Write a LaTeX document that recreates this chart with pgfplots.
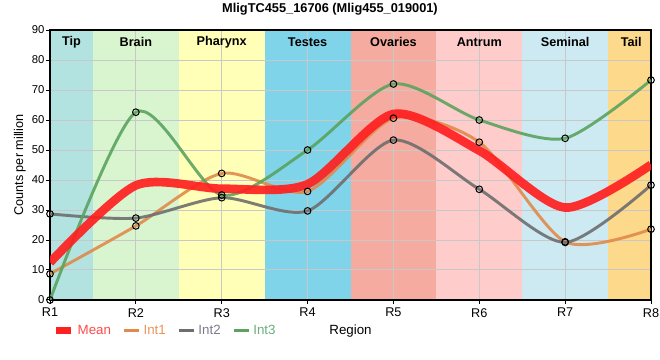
\documentclass[border=0pt]{standalone}
\usepackage{fontspec}
\setmainfont{Liberation Sans}
\usepackage{pgfplots}
\pgfplotsset{compat=1.18}
\definecolor{meanc}{HTML}{FF2020}
\definecolor{meantxt}{HTML}{FF4A4A}
\definecolor{int1c}{HTML}{E08A4B}
\definecolor{int2c}{HTML}{6E6E6E}
\definecolor{int3c}{HTML}{5BA35F}
\definecolor{int1t}{HTML}{E8955A}
\definecolor{int2t}{HTML}{7A7A8A}
\definecolor{int3t}{HTML}{6AAE7A}
\definecolor{gridc}{HTML}{C8C8C8}
\definecolor{tipc}{HTML}{B3E3E0}
\definecolor{brainc}{HTML}{D9F5D0}
\definecolor{pharc}{HTML}{FFFFB8}
\definecolor{testc}{HTML}{7FD4EA}
\definecolor{ovac}{HTML}{F5AB9F}
\definecolor{antc}{HTML}{FFCCCC}
\definecolor{semc}{HTML}{CDEAF3}
\definecolor{tailc}{HTML}{FDD98B}
\begin{document}
\begin{tikzpicture}
\begin{axis}[
  set layers,
  scale only axis, width=450.75pt, height=202.5pt,
  xmin=0, xmax=7, ymin=0, ymax=90,
  xtick={0,1,2,3,4,5,6,7},
  xticklabels={R1,R2,R3,R4,R5,R6,R7,R8},
  ytick={0,10,20,30,40,50,60,70,80,90},
  /pgf/number format/assume math mode=true,
  grid=major, grid style={color=gridc, line width=0.75pt},
  axis line style={black, line width=1.4pt},
  tick pos=left, tick align=outside, major tick length=3pt,
  tick style={black, line width=0.75pt},
  yticklabel style={font=\fontsize{8.5}{10}\selectfont, inner sep=1pt},
  xticklabel style={font=\fontsize{9.5}{11}\selectfont, inner sep=3pt},
  ylabel={Counts per million},
  ylabel style={font=\fontsize{9.5}{11}\selectfont, at={(axis description cs:-0.05,0.5)}, anchor=center},
  xlabel={Region},
  xlabel style={font=\fontsize{10}{12}\selectfont, at={(axis description cs:0.5,-0.115)}, anchor=center},
  clip mode=individual,
  legend columns=4,
  legend style={at={(axis description cs:0.004,-0.113)}, anchor=west, draw=none, fill=none,
    font=\fontsize{10}{12}\selectfont, inner sep=0pt,
    nodes={inner sep=2pt},
    /tikz/every even column/.append style={column sep=7pt},
    /tikz/every odd column/.append style={column sep=0pt}},
  legend image code/.code={\draw[#1] (0pt,0pt) -- (11.25pt,0pt);},
  legend cell align=left,
]
% region bands
\addplot[draw=none, fill=tipc, on layer=axis background, forget plot] coordinates {(0,0) (0,90) (0.5,90) (0.5,0)} -- cycle;
\addplot[draw=none, fill=brainc, on layer=axis background, forget plot] coordinates {(0.5,0) (0.5,90) (1.5,90) (1.5,0)} -- cycle;
\addplot[draw=none, fill=pharc, on layer=axis background, forget plot] coordinates {(1.5,0) (1.5,90) (2.5,90) (2.5,0)} -- cycle;
\addplot[draw=none, fill=testc, on layer=axis background, forget plot] coordinates {(2.5,0) (2.5,90) (3.5,90) (3.5,0)} -- cycle;
\addplot[draw=none, fill=ovac, on layer=axis background, forget plot] coordinates {(3.5,0) (3.5,90) (4.5,90) (4.5,0)} -- cycle;
\addplot[draw=none, fill=antc, on layer=axis background, forget plot] coordinates {(4.5,0) (4.5,90) (5.5,90) (5.5,0)} -- cycle;
\addplot[draw=none, fill=semc, on layer=axis background, forget plot] coordinates {(5.5,0) (5.5,90) (6.5,90) (6.5,0)} -- cycle;
\addplot[draw=none, fill=tailc, on layer=axis background, forget plot] coordinates {(6.5,0) (6.5,90) (7,90) (7,0)} -- cycle;

\node[font=\bfseries\fontsize{9.5}{11}\selectfont] at (axis cs:0.25,86) {Tip};
\node[font=\bfseries\fontsize{9.5}{11}\selectfont] at (axis cs:1,86) {Brain};
\node[font=\bfseries\fontsize{9.5}{11}\selectfont] at (axis cs:2,86) {Pharynx};
\node[font=\bfseries\fontsize{9.5}{11}\selectfont] at (axis cs:3,86) {Testes};
\node[font=\bfseries\fontsize{9.5}{11}\selectfont] at (axis cs:4,86) {Ovaries};
\node[font=\bfseries\fontsize{9.5}{11}\selectfont] at (axis cs:5,86) {Antrum};
\node[font=\bfseries\fontsize{9.5}{11}\selectfont] at (axis cs:6,86) {Seminal};
\node[font=\bfseries\fontsize{9.5}{11}\selectfont] at (axis cs:6.77,86) {Tail};

% lines
\addplot[int1c, line width=2.2pt, opacity=0.9, smooth, tension=0.45, no markers, forget plot]
  coordinates {(0,8.7)(1,24.7)(2,42.2)(3,36.2)(4,60.6)(5,52.6)(6,19.4)(7,23.6)};
\addplot[int2c, line width=2.2pt, opacity=0.9, smooth, tension=0.45, no markers, forget plot]
  coordinates {(0,28.7)(1,27.3)(2,34.1)(3,29.7)(4,53.3)(5,36.9)(6,19.2)(7,38.3)};
\addplot[int3c, line width=2.2pt, opacity=0.9, smooth, tension=0.45, no markers, forget plot]
  coordinates {(0,0)(1,62.6)(2,35.0)(3,50.0)(4,72.0)(5,60.0)(6,53.9)(7,73.3)};
\addplot[meanc, line width=6.5pt, opacity=0.92, smooth, tension=0.45, no markers, forget plot]
  coordinates {(0,12.5)(1,38.2)(2,37.1)(3,38.6)(4,62.0)(5,49.8)(6,30.8)(7,45.1)};

% markers
\addplot[only marks, mark=o, mark size=2.5pt, mark options={black, line width=0.75pt}, forget plot]
  coordinates {(0,8.7)(1,24.7)(2,42.2)(3,36.2)(4,60.6)(5,52.6)(6,19.4)(7,23.6)};
\addplot[only marks, mark=o, mark size=2.5pt, mark options={black, line width=0.75pt}, forget plot]
  coordinates {(0,28.7)(1,27.3)(2,34.1)(3,29.7)(4,53.3)(5,36.9)(6,19.2)(7,38.3)};
\addplot[only marks, mark=o, mark size=2.5pt, mark options={black, line width=0.75pt}, forget plot]
  coordinates {(0,0)(1,62.6)(2,35.0)(3,50.0)(4,72.0)(5,60.0)(6,53.9)(7,73.3)};

\addlegendimage{meanc, line width=5.5pt}
\addlegendentry{\textcolor{meantxt}{Mean}}
\addlegendimage{int1c, line width=2.2pt}
\addlegendentry{\textcolor{int1t}{Int1}}
\addlegendimage{int2c, line width=2.2pt}
\addlegendentry{\textcolor{int2t}{Int2}}
\addlegendimage{int3c, line width=2.2pt}
\addlegendentry{\textcolor{int3t}{Int3}}
\end{axis}
\node[font=\bfseries\fontsize{9.6}{11}\selectfont] at (210pt,218.25pt) {MligTC455\_16706 (Mlig455\_019001)};
\pgfresetboundingbox
\path (-37.5pt,-45pt) rectangle (457.5pt,225pt);
\end{tikzpicture}
\end{document}
